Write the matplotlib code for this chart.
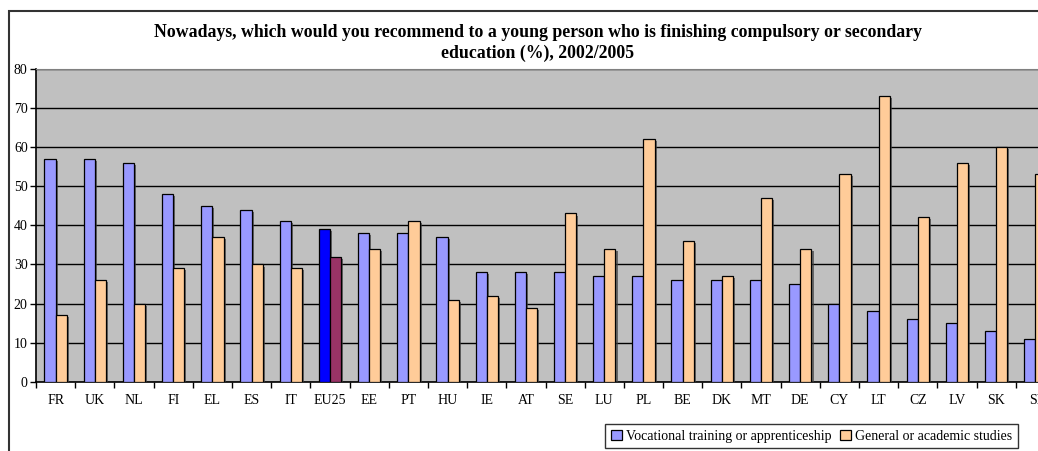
import matplotlib
matplotlib.use("Agg")
import matplotlib.pyplot as plt
import matplotlib.patheffects as pe
from matplotlib.patches import Rectangle
import numpy as np

categories = ["FR", "UK", "NL", "FI", "EL", "ES", "IT", "EU25", "EE", "PT", "HU", "IE", "AT",
              "SE", "LU", "PL", "BE", "DK", "MT", "DE", "CY", "LT", "CZ", "LV", "SK", "SI"]
vocational = [57, 57, 56, 48, 45, 44, 41, 39, 38, 38, 37, 28, 28,
              28, 27, 27, 26, 26, 26, 25, 20, 18, 16, 15, 13, 11]
general = [17, 26, 20, 29, 37, 30, 29, 32, 34, 41, 21, 22, 19,
           43, 34, 62, 36, 27, 47, 34, 53, 73, 42, 56, 60, 53]
yticks = [0, 10, 20, 30, 40, 50, 60, 70, 80]
title = ("Nowadays, which would you recommend to a young person who is finishing compulsory or secondary\n"
         "education (%), 2002/2005")
series_names = ["Vocational training or apprenticeship", "General or academic studies"]

W, H = 1038, 451
fig = plt.figure(figsize=(W / 100, H / 100), dpi=100)
fig.patch.set_facecolor("white")

# chart area border (extends beyond the right / bottom edges)
fig.patches.append(Rectangle((9 / W, -0.1), 1.2, 1 - 11 / H + 0.1, transform=fig.transFigure,
                             fill=False, edgecolor="#333333", linewidth=1.5))

left, right = 36 / W, 1055 / W
bottom, top = 1 - 382 / H, 1 - 68.5 / H
ax = fig.add_axes([left, bottom, right - left, top - bottom])
ax.set_facecolor("#C0C0C0")

x = np.arange(len(categories))
w = 0.2857
voc_colors = ["#0000FF" if c == "EU25" else "#9999FF" for c in categories]
gen_colors = ["#993366" if c == "EU25" else "#FFCC99" for c in categories]
shadow = [pe.SimplePatchShadow(offset=(1.5, -1.5), shadow_rgbFace="#404040", alpha=0.7), pe.Normal()]
b1 = ax.bar(x - w / 2, vocational, width=w, color=voc_colors, edgecolor="black", linewidth=0.9,
            zorder=3, label=series_names[0])
b2 = ax.bar(x + w / 2, general, width=w, color=gen_colors, edgecolor="black", linewidth=0.9,
            zorder=3, label=series_names[1])
for b in list(b1) + list(b2):
    b.set_path_effects(shadow)

ax.set_xlim(-0.5, len(categories) - 0.5)
ax.set_ylim(0, 80)
ax.set_yticks(yticks)
ax.set_yticklabels([str(t) for t in yticks], family="Liberation Serif", fontsize=10)
ax.yaxis.grid(True, color="black", linewidth=1.0, zorder=1)
ax.set_axisbelow(True)
ax.tick_params(axis="y", direction="out", length=4, width=1, pad=2, colors="black")

ax.set_xticks(x)
ax.set_xticklabels(categories, family="Liberation Serif", fontsize=10)
ax.set_xticks(np.arange(len(categories) + 1) - 0.5, minor=True)
ax.tick_params(axis="x", which="major", length=0, pad=9)
ax.tick_params(axis="x", which="minor", direction="out", length=4, width=1)

for s in ["top", "right"]:
    ax.spines[s].set_color("#808080")
ax.spines["left"].set_color("black")
ax.spines["bottom"].set_color("black")
ax.spines["left"].set_linewidth(1.2)
ax.spines["bottom"].set_linewidth(1.2)

fig.text(538 / W, 1 - 43 / H, title, ha="center", va="center", family="Liberation Serif",
         fontweight="bold", fontsize=12.8, linespacing=1.25)

leg = fig.legend(handles=[b1, b2], labels=series_names, loc="upper left",
                 bbox_to_anchor=(605 / W, 1 - 424 / H), bbox_transform=fig.transFigure,
                 ncol=2, frameon=True, fancybox=False, edgecolor="black",
                 prop={"family": "Liberation Serif", "size": 10},
                 handlelength=0.8, handleheight=0.8, handletextpad=0.3, columnspacing=0.6,
                 borderpad=0.4, borderaxespad=0)
leg.get_frame().set_linewidth(1.0)
for h in leg.legend_handles:
    h.set_path_effects([])
    h.set_edgecolor("black")
leg.legend_handles[0].set_facecolor("#9999FF")
leg.legend_handles[1].set_facecolor("#FFCC99")

fig.savefig("out.png", dpi=100)
